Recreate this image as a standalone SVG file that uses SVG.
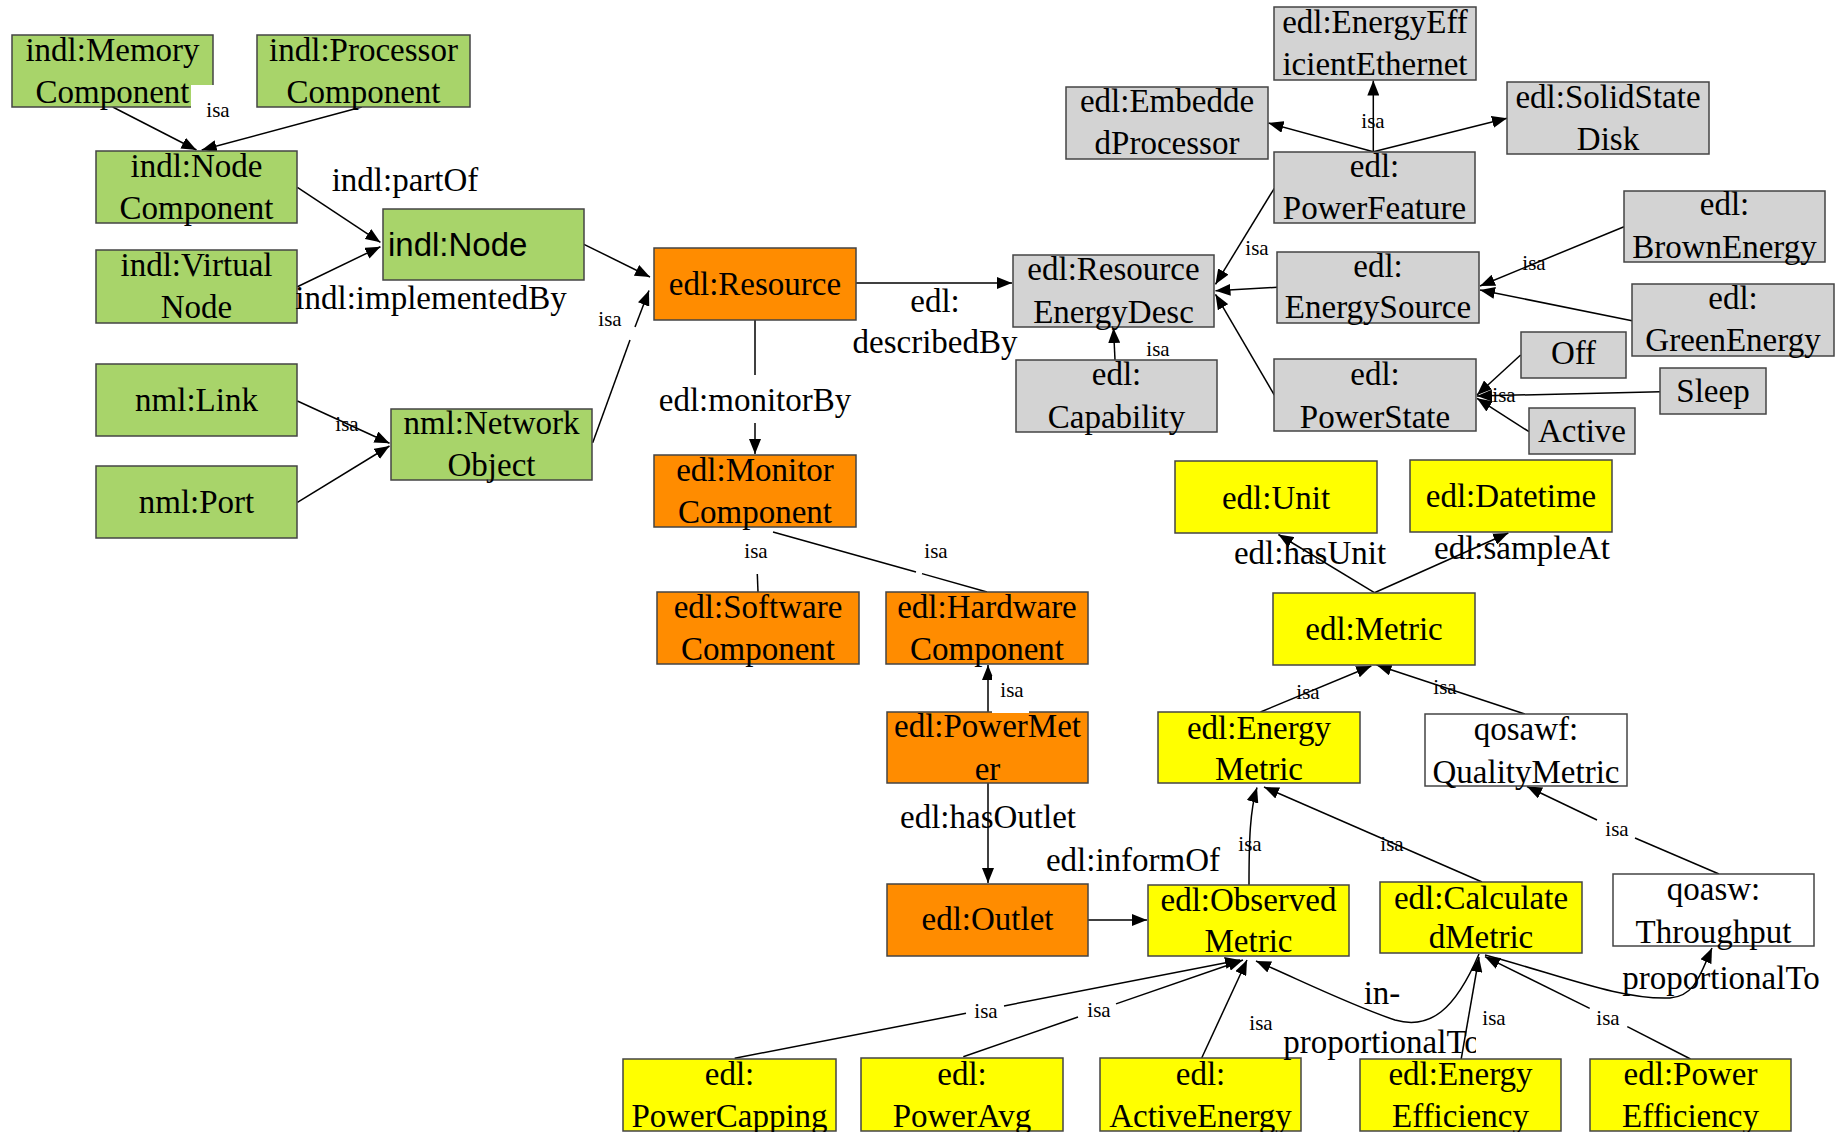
<svg xmlns="http://www.w3.org/2000/svg" width="1840" height="1132" viewBox="0 0 1840 1132">
<defs>
<marker id="arr" markerUnits="userSpaceOnUse" markerWidth="16" markerHeight="12" refX="15" refY="6" orient="auto">
<path d="M0,0 L15,6 L0,12 z" fill="#000"/>
</marker>
<style>
.n rect{stroke:#444;stroke-width:1.5}
.g rect{fill:#a8d46a}
.o rect{fill:#ff8c00}
.y rect{fill:#ffff00}
.s rect{fill:#d3d3d3}
.w rect{fill:#ffffff}
text{font-family:"Liberation Serif","Times New Roman",serif;font-size:33px;fill:#000;text-anchor:middle}
text.isa{font-size:21px}
text.sans{font-family:"Liberation Sans",Arial,sans-serif;text-anchor:start}
.e path{stroke:#000;stroke-width:1.5;fill:none}
.e path.a{marker-end:url(#arr)}
.bg{fill:#fff;stroke:none}
</style>
</defs>
<rect width="1840" height="1132" fill="#fff"/>

<g id="connectors" class="e">
<path class="a" d="M112.7,107 L196.5,150"/>
<path class="a" d="M361.8,107 L201.7,150"/>
<path class="a" d="M297.4,187.3 L380.4,242.3"/>
<path class="a" d="M297.4,286.7 L380.4,246.7"/>
<path class="a" d="M584,244.3 L650,277"/>
<path d="M592.7,442.7 L630,340"/>
<path class="a" d="M635,327 L649,290.5"/>
<path class="a" d="M297.4,401 L389.5,443.3"/>
<path class="a" d="M297.4,502.3 L389.5,446"/>
<path class="a" d="M856,283 L1012,283"/>
<path d="M755,320 L755,375"/>
<path class="a" d="M755,423 L755,454"/>
<path d="M757.3,574 L758,592"/>
<path d="M773,532 L916,572"/>
<path d="M922,573.6 L987,592"/>
<path class="a" d="M988,712 L988,665"/>
<path class="a" d="M988,783 L988,883"/>
<path class="a" d="M1088,920 L1147,920"/>
<path class="a" d="M1115,360 L1113.5,328"/>
<path class="a" d="M1274.3,188.3 L1215.5,284.3"/>
<path class="a" d="M1277.5,287.3 L1215.5,290.7"/>
<path class="a" d="M1274.3,395 L1215.5,294.3"/>
<path class="a" d="M1373.3,151.7 L1373.3,80.5"/>
<path class="a" d="M1373.3,151.7 L1268.5,123"/>
<path class="a" d="M1373.3,151.7 L1507,118.3"/>
<path class="a" d="M1624,226.7 L1480,286"/>
<path class="a" d="M1632,320.7 L1480,290"/>
<path class="a" d="M1520.6,355 L1477,395"/>
<path class="a" d="M1660.4,391.7 L1477,396"/>
<path class="a" d="M1529,431.7 L1477,398.3"/>
<path class="a" d="M1374.4,592.7 L1278.4,534.5"/>
<path class="a" d="M1374.4,592.7 L1508.3,533"/>
<path class="a" d="M1260.5,712 L1371.3,666"/>
<path class="a" d="M1524.8,714 L1376.6,665"/>
<path class="a" d="M1249,885 C1249,840 1250,810 1257,787.5"/>
<path class="a" d="M1482,882 L1264,787"/>
<path d="M1719,874 L1635,838"/>
<path class="a" d="M1597,820 L1527,786.5"/>
<path d="M734.7,1058.3 L966,1013.3"/>
<path class="a" d="M1004,1005.9 L1240,960"/>
<path d="M963.3,1056.7 L1078,1017"/>
<path class="a" d="M1116,1003.9 L1243,960"/>
<path class="a" d="M1201.7,1058 L1247,960"/>
<path class="a" d="M1479,954 C1455,1010 1430,1030 1395,1020 C1350,1005 1300,980 1256,961"/>
<path class="a" d="M1461.2,1059 L1479,957"/>
<path d="M1690.5,1059 L1627.3,1026.7"/>
<path class="a" d="M1589.7,1008.3 L1485,956.7"/>
<path class="a" d="M1485,955 C1560,975 1620,1000 1670,998 C1695,996 1700,975 1712,948"/>
</g>

<g id="n-memory" class="n g"><rect x="12" y="35" width="201" height="72"/><text x="112.5" y="61">indl:Memory</text><text x="112.5" y="103">Component</text></g>
<g id="n-processor" class="n g"><rect x="257" y="35" width="213" height="72"/><text x="363.5" y="61">indl:Processor</text><text x="363.5" y="103">Component</text></g>
<g id="n-nodecomponent" class="n g"><rect x="96" y="151" width="201" height="72"/><text x="196.5" y="177">indl:Node</text><text x="196.5" y="219">Component</text></g>
<g id="n-virtualnode" class="n g"><rect x="96" y="250" width="201" height="73"/><text x="196.5" y="276">indl:Virtual</text><text x="196.5" y="318">Node</text></g>
<g id="n-node" class="n g"><rect x="383" y="209" width="201" height="71"/><text class="sans" x="388" y="256">indl:Node</text></g>
<g id="n-link" class="n g"><rect x="96" y="364" width="201" height="72"/><text x="196.5" y="411">nml:Link</text></g>
<g id="n-port" class="n g"><rect x="96" y="466" width="201" height="72"/><text x="196.5" y="513">nml:Port</text></g>
<g id="n-networkobject" class="n g"><rect x="391" y="409" width="201" height="71"/><text x="491.5" y="434">nml:Network</text><text x="491.5" y="476">Object</text></g>

<g id="n-resource" class="n o"><rect x="654" y="248" width="202" height="72"/><text x="755" y="295">edl:Resource</text></g>
<g id="n-monitor" class="n o"><rect x="654" y="455" width="202" height="72"/><text x="755" y="481">edl:Monitor</text><text x="755" y="523">Component</text></g>
<g id="n-software" class="n o"><rect x="657" y="592" width="202" height="72"/><text x="758" y="618">edl:Software</text><text x="758" y="660">Component</text></g>
<g id="n-hardware" class="n o"><rect x="886" y="592" width="202" height="72"/><text x="987" y="618">edl:Hardware</text><text x="987" y="660">Component</text></g>
<g id="n-powermeter" class="n o"><rect x="887" y="712" width="201" height="71"/><text x="987.5" y="737">edl:PowerMet</text><text x="987.5" y="780">er</text></g>
<g id="n-outlet" class="n o"><rect x="887" y="884" width="201" height="72"/><text x="987.5" y="930">edl:Outlet</text></g>

<g id="n-eee" class="n s"><rect x="1274" y="7" width="202" height="73"/><text x="1375" y="33">edl:EnergyEff</text><text x="1375" y="75">icientEthernet</text></g>
<g id="n-embedded" class="n s"><rect x="1066" y="87" width="202" height="72"/><text x="1167" y="112">edl:Embedde</text><text x="1167" y="154">dProcessor</text></g>
<g id="n-ssd" class="n s"><rect x="1507" y="82" width="202" height="72"/><text x="1608" y="108">edl:SolidState</text><text x="1608" y="150">Disk</text></g>
<g id="n-powerfeature" class="n s"><rect x="1274" y="152" width="201" height="71"/><text x="1374.5" y="177">edl:</text><text x="1374.5" y="219">PowerFeature</text></g>
<g id="n-red" class="n s"><rect x="1013" y="255" width="201" height="72"/><text x="1113.5" y="280">edl:Resource</text><text x="1113.5" y="323">EnergyDesc</text></g>
<g id="n-capability" class="n s"><rect x="1016" y="360" width="201" height="72"/><text x="1116.5" y="385">edl:</text><text x="1116.5" y="428">Capability</text></g>
<g id="n-energysource" class="n s"><rect x="1277" y="252" width="202" height="71"/><text x="1378" y="277">edl:</text><text x="1378" y="318">EnergySource</text></g>
<g id="n-powerstate" class="n s"><rect x="1274" y="359" width="202" height="72"/><text x="1375" y="385">edl:</text><text x="1375" y="428">PowerState</text></g>
<g id="n-brown" class="n s"><rect x="1624" y="191" width="201" height="71"/><text x="1724.5" y="215">edl:</text><text x="1724.5" y="258">BrownEnergy</text></g>
<g id="n-green" class="n s"><rect x="1632" y="284" width="202" height="72"/><text x="1733" y="309">edl:</text><text x="1733" y="351">GreenEnergy</text></g>
<g id="n-off" class="n s"><rect x="1521" y="332" width="105" height="46"/><text x="1573.5" y="364">Off</text></g>
<g id="n-sleep" class="n s"><rect x="1660" y="368" width="106" height="46"/><text x="1713" y="402">Sleep</text></g>
<g id="n-active" class="n s"><rect x="1529" y="408" width="106" height="46"/><text x="1582" y="442">Active</text></g>

<g id="n-unit" class="n y"><rect x="1175" y="461" width="202" height="72"/><text x="1276" y="509">edl:Unit</text></g>
<g id="n-datetime" class="n y"><rect x="1410" y="460" width="202" height="72"/><text x="1511" y="507">edl:Datetime</text></g>
<g id="n-metric" class="n y"><rect x="1273" y="593" width="202" height="72"/><text x="1374" y="640">edl:Metric</text></g>
<g id="n-energymetric" class="n y"><rect x="1158" y="712" width="202" height="71"/><text x="1259" y="739">edl:Energy</text><text x="1259" y="780">Metric</text></g>
<g id="n-qualitymetric" class="n w"><rect x="1425" y="714" width="202" height="72"/><text x="1526" y="740">qosawf:</text><text x="1526" y="783">QualityMetric</text></g>
<g id="n-observed" class="n y"><rect x="1148" y="885" width="201" height="71"/><text x="1248.5" y="911">edl:Observed</text><text x="1248.5" y="952">Metric</text></g>
<g id="n-calculated" class="n y"><rect x="1380" y="882" width="202" height="71"/><text x="1481" y="909">edl:Calculate</text><text x="1481" y="948">dMetric</text></g>
<g id="n-throughput" class="n w"><rect x="1613" y="874" width="201" height="72"/><text x="1713.5" y="900">qoasw:</text><text x="1713.5" y="943">Throughput</text></g>
<g id="n-powercapping" class="n y"><rect x="623" y="1059" width="213" height="72"/><text x="729.5" y="1085">edl:</text><text x="729.5" y="1127">PowerCapping</text></g>
<g id="n-poweravg" class="n y"><rect x="861" y="1058" width="202" height="73"/><text x="962" y="1085">edl:</text><text x="962" y="1127">PowerAvg</text></g>
<g id="n-activeenergy" class="n y"><rect x="1100" y="1058" width="201" height="73"/><text x="1200.5" y="1085">edl:</text><text x="1200.5" y="1127">ActiveEnergy</text></g>
<g id="n-energyeff" class="n y"><rect x="1360" y="1059" width="201" height="72"/><text x="1460.5" y="1085">edl:Energy</text><text x="1460.5" y="1127">Efficiency</text></g>
<g id="n-powereff" class="n y"><rect x="1590" y="1059" width="201" height="72"/><text x="1690.5" y="1085">edl:Power</text><text x="1690.5" y="1127">Efficiency</text></g>

<g id="labels">
<text x="1382" y="1004">in-</text>
<text x="1382" y="1053">proportionalTo</text>
<rect class="bg" x="191" y="85" width="50" height="38"/>
<rect class="bg" x="992" y="676" width="37" height="37"/>
<rect class="bg" x="1476" y="1003" width="36" height="54"/>
<text class="isa" x="218" y="117">isa</text>
<text x="405" y="191">indl:partOf</text>
<text x="431" y="309">indl:implementedBy</text>
<text class="isa" x="610" y="326">isa</text>
<text class="isa" x="347" y="431">isa</text>
<text x="935" y="312">edl:</text>
<text x="935" y="353">describedBy</text>
<text x="755" y="411">edl:monitorBy</text>
<text class="isa" x="756" y="558">isa</text>
<text class="isa" x="936" y="558">isa</text>
<text class="isa" x="1012" y="697">isa</text>
<text x="988" y="828">edl:hasOutlet</text>
<text x="1133" y="871">edl:informOf</text>
<text class="isa" x="1373" y="128">isa</text>
<text class="isa" x="1257" y="255">isa</text>
<text class="isa" x="1158" y="356">isa</text>
<text class="isa" x="1534" y="270">isa</text>
<text class="isa" x="1504" y="402">isa</text>
<text x="1310" y="564">edl:hasUnit</text>
<text x="1522" y="559">edl:sampleAt</text>
<text class="isa" x="1308" y="699">isa</text>
<text class="isa" x="1445" y="694">isa</text>
<text class="isa" x="1250" y="851">isa</text>
<text class="isa" x="1392" y="851">isa</text>
<text class="isa" x="1617" y="836">isa</text>
<text class="isa" x="986" y="1018">isa</text>
<text class="isa" x="1099" y="1017">isa</text>
<text class="isa" x="1261" y="1030">isa</text>
<text class="isa" x="1494" y="1025">isa</text>
<text class="isa" x="1608" y="1025">isa</text>
<text x="1721" y="989">proportionalTo</text>
</g>
</svg>
